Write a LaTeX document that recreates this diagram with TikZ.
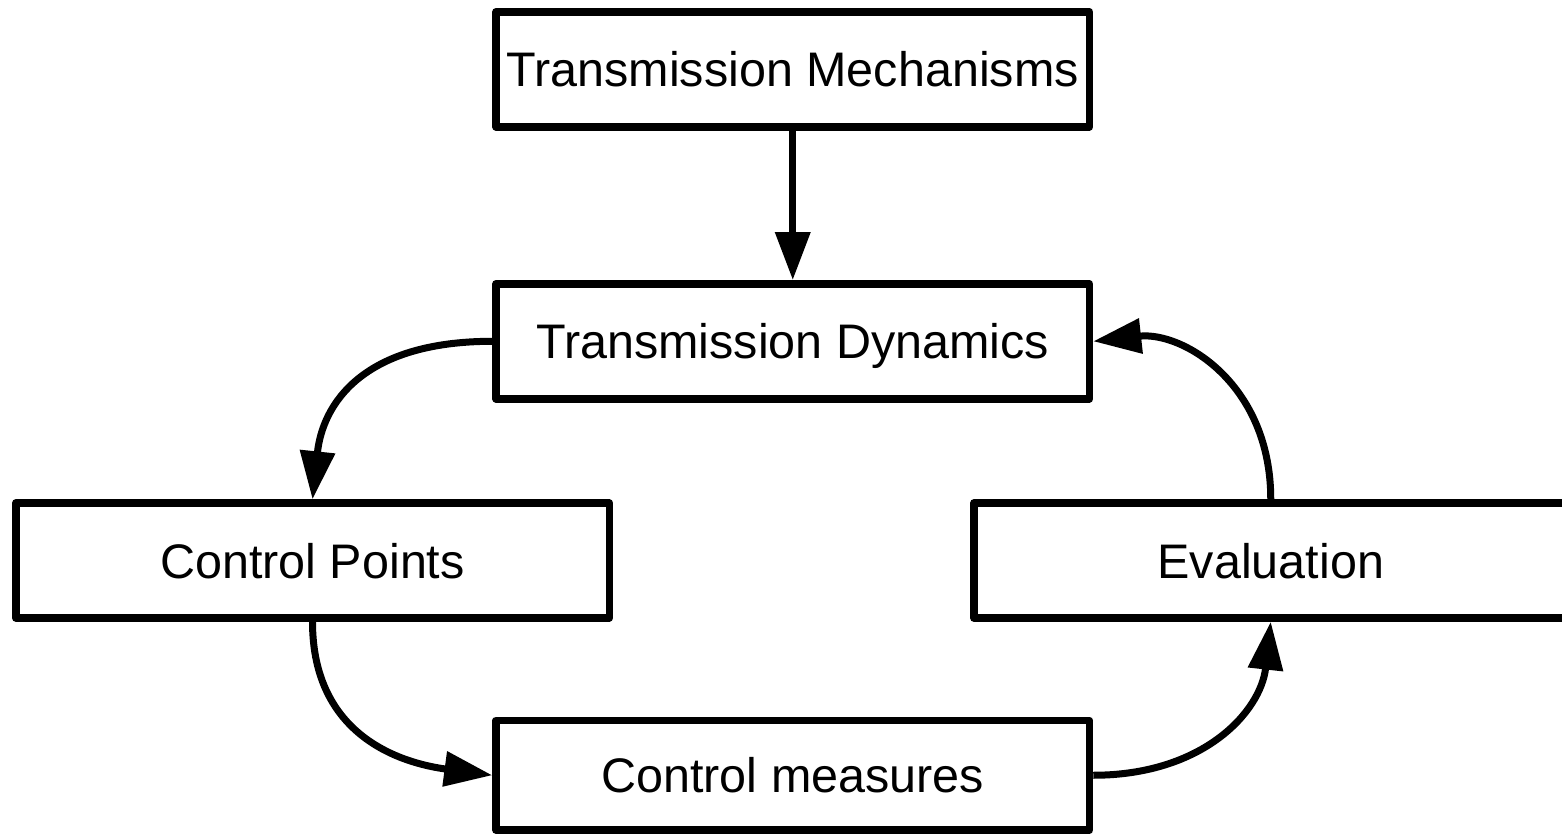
\documentclass[tikz,border=0pt]{standalone}
\usepackage{fontspec}
\setmainfont{Liberation Sans}
\usetikzlibrary{arrows.meta}
\begin{document}
\begin{tikzpicture}[x=1pt,y=-1pt,
  box/.style={draw, line width=7.5pt, line join=round, inner sep=0pt, anchor=center,
    minimum width=593.5pt, minimum height=115pt,
    font=\fontsize{48.5}{58}\selectfont, text depth=0pt},
  arr/.style={line width=7pt, -{Triangle[length=48pt,width=34pt]}}]
\useasboundingbox (0,0) rectangle (1562,834);
\fill[white] (0,0) rectangle (1562,834);
\node[box] (tm) at (792.75,69.3) {Transmission Mechanisms};
\node[box] (td) at (792.75,341.3) {Transmission Dynamics};
\node[box] (cp) at (312.5,560.5) {Control Points};
\node[box] (ev) at (1270.75,560.5) {Evaluation};
\node[box, minimum height=109.5pt] (cm) at (792.75,775.25) {Control measures};
\draw[arr] (tm.south) -- (td.north);
\draw[arr] (td.west) .. controls +(-130,0) and +(10,-95) .. (cp.north);
\draw[arr] (cp.south) .. controls +(0,115) and +(-90,-12) .. (cm.west);
\draw[arr] (cm.east) .. controls +(110,0) and +(-10,90) .. (ev.south);
\draw[arr] (ev.north) .. controls +(0,-115) and +(90,-10) .. (td.east);
\end{tikzpicture}
\end{document}
